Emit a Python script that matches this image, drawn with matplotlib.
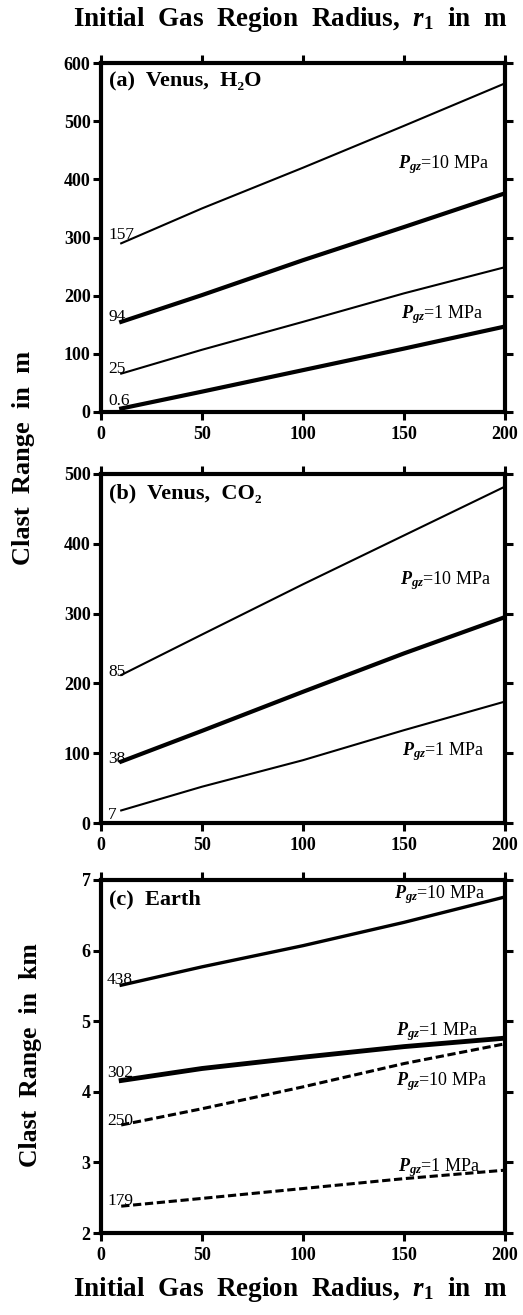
import matplotlib
matplotlib.use("Agg")
import matplotlib.pyplot as plt
import numpy as np

plt.rcParams['font.family'] = ['Liberation Serif', 'DejaVu Serif']
plt.rcParams['mathtext.fontset'] = 'custom'
plt.rcParams['mathtext.it'] = 'Liberation Serif:italic:bold'
plt.rcParams['mathtext.rm'] = 'Liberation Serif:bold'
plt.rcParams['mathtext.bf'] = 'Liberation Serif:bold'

# ---- data ----
r1 = [10, 50, 100, 150, 200]

# (a) Venus, H2O
a_157 = [290, 350, 420, 492, 565]
a_94 = [155, 201, 261, 318, 376]
a_25 = [66, 107, 155, 204, 249]
a_06 = [6, 35, 72, 109, 147]

# (b) Venus, CO2
b_85 = [212, 270, 342, 412, 482]
b_38 = [88, 132, 188, 243, 295]
b_7 = [18, 52, 90, 133, 174]

# (c) Earth (km)
c_438 = [5.51, 5.77, 6.07, 6.40, 6.76]
c_302 = [4.16, 4.33, 4.49, 4.64, 4.76]
c_250 = [3.53, 3.76, 4.07, 4.40, 4.68]
c_179 = [2.38, 2.49, 2.63, 2.77, 2.89]

xticks = [0, 50, 100, 150, 200]
a_yticks = [0, 100, 200, 300, 400, 500, 600]
b_yticks = [0, 100, 200, 300, 400, 500]
c_yticks = [2, 3, 4, 5, 6, 7]

W, H = 523, 1315
fig = plt.figure(figsize=(W / 100, H / 100), dpi=100)


def make_ax(left, top, right, bottom):
    return fig.add_axes([left / W, 1 - bottom / H, (right - left) / W, (bottom - top) / H])


def style(ax, yticks, ylim):
    ax.set_xlim(0, 200)
    ax.set_ylim(*ylim)
    ax.set_xticks(xticks)
    ax.set_yticks(yticks)
    for s in ax.spines.values():
        s.set_linewidth(3.0)
    ax.tick_params(which='both', direction='out', length=6, width=2.2,
                   top=True, right=True, labeltop=False, labelright=False,
                   labelsize=13)
    ax.tick_params(axis='x', pad=4)
    ax.tick_params(axis='y', pad=1.5)
    for lab in ax.get_xticklabels() + ax.get_yticklabels():
        lab.set_fontweight('bold')


thin = 1.5
thick = 3.0
tfs = 12.5
pfs = 13
lfs = 16

# ---- panel (a) ----
axa = make_ax(101, 63, 505, 412)
axa.plot(r1, a_157, color='black', lw=thin)
axa.plot(r1, a_94, color='black', lw=thick)
axa.plot(r1, a_25, color='black', lw=thin)
axa.plot(r1, a_06, color='black', lw=thick)
style(axa, a_yticks, (0, 600))
axa.text(3.5, 290, '157', fontsize=tfs, ha='left', va='bottom')
axa.text(3.5, 150, '94', fontsize=tfs, ha='left', va='bottom')
axa.text(3.5, 60, '25', fontsize=tfs, ha='left', va='bottom')
axa.text(3.5, 6, '0.6', fontsize=tfs, ha='left', va='bottom')
axa.text(147, 425, r'$P_{gz}$=10 MPa', fontsize=pfs, ha='left', va='center')
axa.text(148.5, 167, r'$P_{gz}$=1 MPa', fontsize=pfs, ha='left', va='center')
axa.text(4, 568, '(a)  Venus,  H₂O', fontsize=lfs, fontweight='bold', ha='left', va='center')

# ---- panel (b) ----
axb = make_ax(101, 474, 505, 823)
axb.plot(r1, b_85, color='black', lw=thin)
axb.plot(r1, b_38, color='black', lw=thick)
axb.plot(r1, b_7, color='black', lw=thin)
style(axb, b_yticks, (0, 500))
axb.text(3.5, 205, '85', fontsize=tfs, ha='left', va='bottom')
axb.text(3.5, 80, '38', fontsize=tfs, ha='left', va='bottom')
axb.text(3.5, 0, '7', fontsize=tfs, ha='left', va='bottom')
axb.text(148, 348, r'$P_{gz}$=10 MPa', fontsize=pfs, ha='left', va='center')
axb.text(149, 102, r'$P_{gz}$=1 MPa', fontsize=pfs, ha='left', va='center')
axb.text(4, 472, '(b)  Venus,  CO₂', fontsize=lfs, fontweight='bold', ha='left', va='center')

# ---- panel (c) ----
axc = make_ax(101, 880, 505, 1233)
axc.plot(r1, c_438, color='black', lw=2.4)
axc.plot(r1, c_302, color='black', lw=thick + 0.5)
axc.plot(r1, c_250, color='black', lw=2.2, dashes=(2.7, 1.2))
axc.plot(r1, c_179, color='black', lw=2.2, dashes=(2.7, 1.2))
style(axc, c_yticks, (2, 7))
axc.text(3, 5.47, '438', fontsize=tfs, ha='left', va='bottom')
axc.text(3, 4.15, '302', fontsize=tfs, ha='left', va='bottom')
axc.text(3, 3.48, '250', fontsize=tfs, ha='left', va='bottom')
axc.text(3, 2.34, '179', fontsize=tfs, ha='left', va='bottom')
axc.text(145, 6.79, r'$P_{gz}$=10 MPa', fontsize=pfs, ha='left', va='center')
axc.text(146, 4.85, r'$P_{gz}$=1 MPa', fontsize=pfs, ha='left', va='center')
axc.text(146, 4.15, r'$P_{gz}$=10 MPa', fontsize=pfs, ha='left', va='center')
axc.text(147, 2.92, r'$P_{gz}$=1 MPa', fontsize=pfs, ha='left', va='center')
axc.text(4, 6.73, '(c)  Earth', fontsize=lfs, fontweight='bold', ha='left', va='center')

# ---- axis titles ----
title = r'Initial  Gas  Region  Radius,  $r_1$  in  m'
fig.text(290 / W, 1 - 20 / H, title, fontsize=19.5, fontweight='bold', ha='center', va='center')
fig.text(290 / W, 1 - 1290 / H, title, fontsize=19.5, fontweight='bold', ha='center', va='center')
fig.text(24 / W, 1 - 458 / H, 'Clast  Range  in  m', fontsize=19, fontweight='bold',
         rotation=90, ha='center', va='center')
fig.text(31 / W, 1 - 1055 / H, 'Clast  Range  in  km', fontsize=18.5, fontweight='bold',
         rotation=90, ha='center', va='center')

fig.savefig('out.png', dpi=100)
